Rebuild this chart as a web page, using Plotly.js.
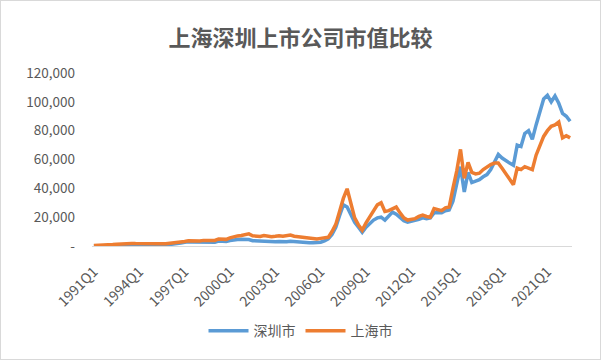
<!DOCTYPE html>
<html>
<head>
<meta charset="utf-8">
<script src="https://cdn.plot.ly/plotly-3.0.1.min.js"></script>
<style>
html,body{margin:0;padding:0;background:#fff;}
#chart{width:601px;height:360px;box-sizing:border-box;border:1px solid #d9d9d9;}
</style>
</head>
<body>
<div id="chart"></div>
<script>
// Quarters 1991Q1 .. 2022Q3
const startYear = 1991;
const endYear = 2022;
const endQuarter = 3;
const quarters = [];
for (let y = startYear; y <= endYear; y++) {
  for (let q = 1; q <= 4; q++) {
    if (y === endYear && q > endQuarter) break;
    quarters.push(y + 'Q' + q);
  }
}

// 深圳市 market value
const shenzhen = [
  50, 60, 80, 100,
  200, 300, 400, 500,
  800, 1000, 900, 800,
  700, 600, 800, 700,
  700, 700, 600, 700,
  900, 1300, 1700, 2000,
  2600, 3000, 2700, 2600,
  2600, 2800, 2600, 2500,
  2600, 3400, 3200, 3100,
  3800, 4300, 4500, 4600,
  4600, 4500, 3700, 3500,
  3300, 3600, 3200, 2900,
  3000, 3200, 3000, 2900,
  3300, 3000, 2800, 2500,
  2400, 2300, 2300, 2200,
  2600, 3500, 5000, 8000,
  13000, 21000, 28500, 27000,
  21000, 16500, 13000, 9500,
  13000, 15500, 18000, 19500,
  20000, 18000, 21000, 23500,
  22000, 20000, 17500, 16500,
  17000, 17500, 18500, 19500,
  19000, 19500, 23000, 23000,
  23000, 24500, 25000, 31000,
  42000, 55000, 37500, 51000,
  44000, 45000, 46000, 48000,
  49500, 53000, 58000, 63500,
  61000, 59000, 57500, 56000,
  70000, 69000, 78000, 80000,
  74000, 84000, 93000, 102000,
  104500, 100000, 104000, 99000,
  92000, 90000, 86500
];

// 上海市 market value
const shanghai = [
  300, 350, 400, 500,
  800, 1000, 1300, 1400,
  1900, 2100, 1800, 1700,
  1600, 1400, 1800, 1700,
  1500, 1600, 1500, 1500,
  1700, 2000, 2300, 2600,
  3100, 3600, 3400, 3300,
  3500, 3900, 3700, 3600,
  3900, 4900, 4700, 4600,
  5600, 6400, 7000, 7300,
  7900, 8400, 7100, 6800,
  6600, 7200, 6700, 6400,
  6700, 7100, 6800, 6900,
  7600, 6800, 6500, 5900,
  5600, 5200, 5100, 4800,
  5300, 5800, 6000, 10000,
  15000, 24000, 33000, 39700,
  30000, 19500, 14600, 11000,
  16000, 20500, 25000, 28500,
  30000, 24000, 24500, 26000,
  27000, 23000, 19500, 18000,
  18500, 19000, 20500, 21500,
  20500, 20000, 26000, 25000,
  24500, 26500, 27000, 40000,
  52000, 67000, 47000, 58000,
  51000, 50000, 50500, 53000,
  55000, 56500, 57500, 57500,
  54000, 50500, 47000, 42500,
  54000, 53000, 55000, 54000,
  53000, 63000, 70000, 76000,
  80000, 83000, 84000, 86000,
  75000, 76500, 75000
];

const xTickLabels = ['1991Q1','1994Q1','1997Q1','2000Q1','2003Q1','2006Q1','2009Q1','2012Q1','2015Q1','2018Q1','2021Q1'];
const yTickVals = [0, 20000, 40000, 60000, 80000, 100000, 120000];
const yTickText = ['-', '20,000', '40,000', '60,000', '80,000', '100,000', '120,000'];

const FONT = '"Noto Sans CJK SC", "Noto Sans", sans-serif';
const GREY = '#595959';

const traces = [
  {
    x: quarters, y: shenzhen, name: '深圳市', type: 'scatter', mode: 'lines',
    line: {color: '#5B9BD5', width: 3.5}
  },
  {
    x: quarters, y: shanghai, name: '上海市', type: 'scatter', mode: 'lines',
    line: {color: '#ED7D31', width: 3.5}
  }
];

const layout = {
  width: 599, height: 358,
  paper_bgcolor: '#fff', plot_bgcolor: '#fff',
  font: {family: FONT, color: GREY},
  margin: {l: 91, r: 28, t: 72, b: 113},
  title: {
    text: '<b>上海深圳上市公司市值比较</b>',
    font: {family: FONT, size: 22, color: GREY},
    x: 0.5, xref: 'container', xanchor: 'center',
    y: 0.895, yref: 'container', yanchor: 'middle'
  },
  xaxis: {
    type: 'category',
    range: [-0.5, quarters.length - 0.5],
    tickmode: 'array', tickvals: xTickLabels, ticktext: xTickLabels,
    tickangle: -45,
    tickfont: {family: FONT, size: 14, color: GREY},
    showgrid: false, zeroline: false,
    showline: true, linecolor: '#d9d9d9', linewidth: 1,
    ticks: '', ticklabelstandoff: 11
  },
  yaxis: {
    range: [0, 120000],
    tickmode: 'array', tickvals: yTickVals, ticktext: yTickText,
    tickfont: {family: FONT, size: 13.5, color: GREY},
    showgrid: false, zeroline: false, showline: false,
    ticks: '', ticklabelstandoff: 16
  },
  showlegend: true,
  legend: {
    orientation: 'h',
    x: 0.5, xref: 'container', xanchor: 'center',
    y: 0.078, yref: 'container', yanchor: 'middle',
    font: {family: FONT, size: 14, color: GREY},
    itemwidth: 40
  }
};

Plotly.newPlot('chart', traces, layout, {displayModeBar: false, staticPlot: true});
</script>
</body>
</html>
